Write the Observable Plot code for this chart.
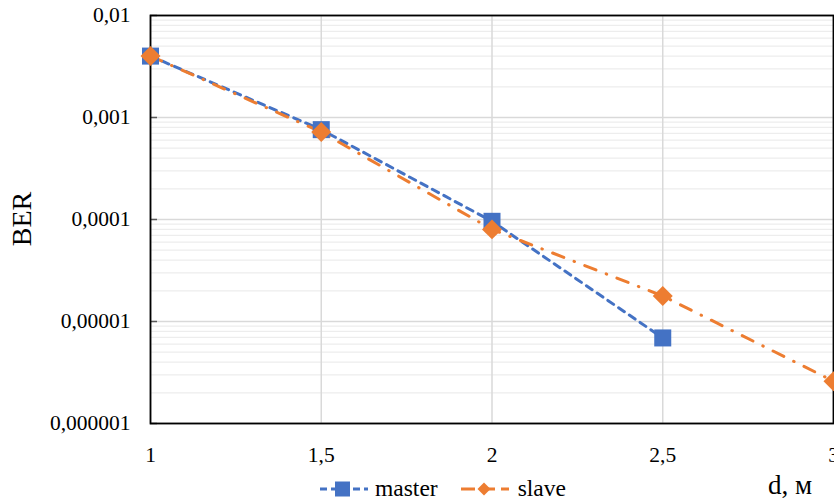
<!DOCTYPE html>
<html><head><meta charset="utf-8">
<script src="https://cdn.jsdelivr.net/npm/d3@7"></script>
<script src="https://cdn.jsdelivr.net/npm/@observablehq/plot@0.6"></script>
<style>
body{margin:0;background:#fff;overflow:hidden;}
#wrap{position:relative;width:834px;height:501px;font-family:"Liberation Serif","Times New Roman",serif;color:#000;}
#wrap > svg{position:absolute;left:0;top:0;}
.ylab{position:absolute;left:22px;top:219px;transform:translate(-50%,-50%) rotate(-90deg);font-size:28px;line-height:1;white-space:nowrap;}
.xlab{position:absolute;left:768px;top:472px;font-size:27px;line-height:1;white-space:nowrap;}
.legend{position:absolute;left:318px;top:477px;height:23px;font-family:"Liberation Serif","Times New Roman",serif;font-size:23.5px;line-height:1;display:flex;align-items:center;white-space:nowrap;}
.legend span{display:inline-flex;align-items:center;font-family:inherit;}
#wrap .legend svg{position:static;display:block;}
</style></head><body><div id="wrap"></div>
<script>
const distances = [1, 1.5, 2, 2.5, 3];
const masterBER = [4.0e-3, 7.6e-4, 9.6e-5, 6.9e-6];
const slaveBER = [4.0e-3, 7.2e-4, 8.0e-5, 1.78e-5, 2.6e-6];
const seriesNames = ["master", "slave"];
const xTicks = [1, 1.5, 2, 2.5, 3];
const xTickLabels = ["1", "1,5", "2", "2,5", "3"];
const yTicks = [1e-6, 1e-5, 1e-4, 1e-3, 1e-2];
const yTickLabels = ["0,000001", "0,00001", "0,0001", "0,001", "0,01"];
const xTitle = "d, м";
const yTitle = "BER";

const blue = "#4472C4", orange = "#ED7D31";
const master = masterBER.map((v, i) => ({d: distances[i], ber: v}));
const slave = slaveBER.map((v, i) => ({d: distances[i], ber: v}));
const minor = [];
for (let k = -6; k < -2; k++) for (let m = 2; m <= 9; m++) minor.push(m * Math.pow(10, k));

const chart = Plot.plot({
  width: 834, height: 501,
  marginLeft: 150, marginRight: 1, marginTop: 15, marginBottom: 78,
  style: {fontFamily: "Liberation Serif, Times New Roman, serif", fontSize: "21.5px", color: "#000", background: "transparent", overflow: "visible"},
  x: {domain: [1, 3]},
  y: {type: "log", domain: [1e-6, 1e-2]},
  marks: [
    Plot.ruleY(minor, {stroke: "#ededed", strokeWidth: 1.2}),
    Plot.ruleY(yTicks, {stroke: "#d9d9d9", strokeWidth: 1.5}),
    Plot.ruleX(xTicks, {stroke: "#d9d9d9", strokeWidth: 1.5}),
    Plot.axisY({ticks: yTicks, tickSize: 7, dx: 7, tickFormat: () => "", label: null, stroke: "#595959", strokeWidth: 1.5}),
    Plot.axisY({ticks: yTicks, tickSize: 0, tickPadding: 20, tickFormat: (d) => yTickLabels[yTicks.indexOf(d)], label: null, fill: "#000"}),
    Plot.axisX({ticks: xTicks, tickSize: 0, tickPadding: 23, tickFormat: (d) => xTickLabels[xTicks.indexOf(d)], label: null, fill: "#000"}),
    Plot.frame({stroke: "#000", strokeWidth: 1.8}),
    Plot.line(master, {x: "d", y: "ber", stroke: blue, strokeWidth: 3, strokeDasharray: "7,6", strokeLinecap: "round"}),
    Plot.line(slave, {x: "d", y: "ber", stroke: orange, strokeWidth: 3, strokeDasharray: "12,11,0.5,11", strokeLinecap: "round"}),
    Plot.dot(master, {x: "d", y: "ber", symbol: "square", r: 9.6, fill: blue, stroke: "none"}),
    Plot.dot(slave, {x: "d", y: "ber", symbol: "diamond2", r: 9, fill: orange, stroke: "none"})
  ]
});
const wrap = document.getElementById("wrap");
wrap.appendChild(chart);

const yl = document.createElement("div"); yl.className = "ylab"; yl.textContent = yTitle; wrap.appendChild(yl);
const xl = document.createElement("div"); xl.className = "xlab"; xl.textContent = xTitle; wrap.appendChild(xl);

const lg = document.createElement("div"); lg.className = "legend";
const sym = (color, dash, shape) => {
  const m = shape === "square"
    ? `<rect x="17" y="4.5" width="15" height="15" fill="${color}"/>`
    : `<path d="M25 5.5 L31.5 12 L25 18.5 L18.5 12 Z" fill="${color}"/>`;
  return `<svg width="52" height="24"><line x1="2" y1="12" x2="50" y2="12" stroke="${color}" stroke-width="3" stroke-dasharray="${dash}"/>${m}</svg>`;
};
lg.innerHTML = `<span>${sym(blue, "7,4", "square")}<span style="margin-left:5px">${seriesNames[0]}</span></span>` +
  `<span style="margin-left:21px">${sym(orange, "14,6", "diamond")}<span style="margin-left:7px">${seriesNames[1]}</span></span>`;
wrap.appendChild(lg);
</script></body></html>
